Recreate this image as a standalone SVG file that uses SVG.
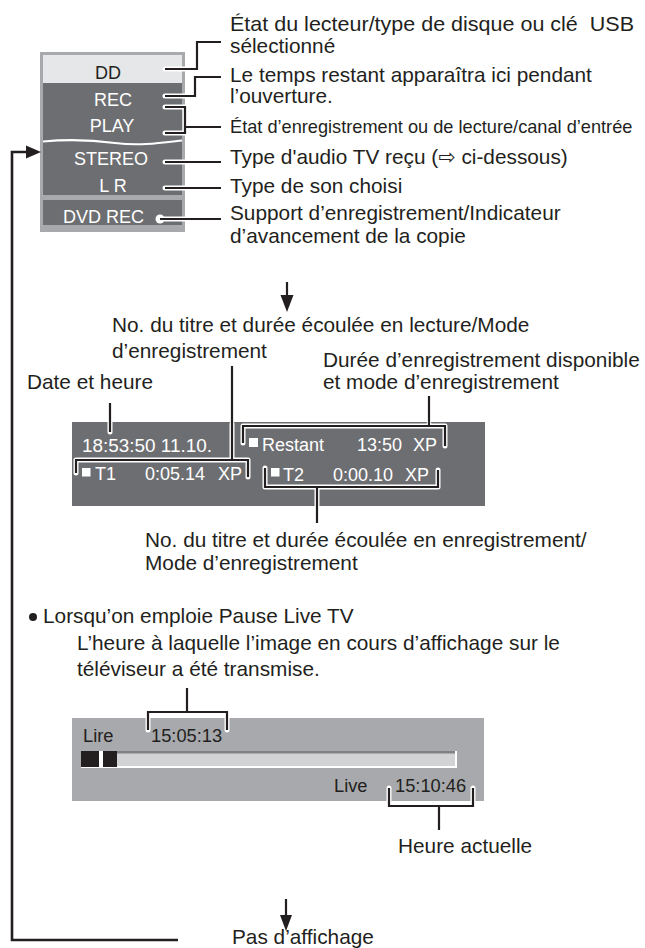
<svg xmlns="http://www.w3.org/2000/svg" width="645" height="948" viewBox="0 0 645 948">
<style>
.lb{font-family:"Liberation Sans",Arial,"DejaVu Sans",sans-serif;font-size:20.8px;fill:#231f20}
.pt{font-family:"Liberation Sans",Arial,sans-serif;font-size:18px;fill:#ffffff}
.pd{font-family:"Liberation Sans",Arial,sans-serif;font-size:18.3px;fill:#231f20}
.halo{fill:none;stroke:#ffffff;stroke-width:5;stroke-linecap:round;stroke-linejoin:round}
.ln{fill:none;stroke:#231f20;stroke-width:2.2;stroke-linejoin:miter}
.loop{fill:none;stroke:#231f20;stroke-width:2.6}
.dark{fill:#6d6e71}
.grey{fill:#a7a9ac}
.ah{fill:#231f20}
</style>

<g id="panel-main">
  <rect x="40" y="52" width="145" height="180" class="grey"/>
  <rect x="43" y="55" width="139" height="140" class="dark"/>
  <rect x="43" y="55" width="139" height="28" fill="#e6e7e8"/>
  <rect x="43" y="200" width="139" height="25" class="dark"/>
  <path d="M43,141.5 C70,139 92,140 115,143 C140,146 160,143 182,140.5" fill="none" stroke="#ffffff" stroke-width="2.2"/>
  <text x="108" y="79" class="pt" text-anchor="middle" style="fill:#231f20">DD</text>
  <text x="113" y="106" class="pt" text-anchor="middle">REC</text>
  <text x="112" y="132" class="pt" text-anchor="middle">PLAY</text>
  <text x="111" y="165" class="pt" text-anchor="middle">STEREO</text>
  <text x="113" y="192" class="pt" text-anchor="middle">L R</text>
  <text x="63" y="223" class="pt">DVD REC</text>
  <circle cx="160" cy="219" r="4.5" fill="#ffffff"/>
</g>

<g id="panel-playback">
  <rect x="72" y="422" width="413" height="84" class="dark"/>
  <text x="82" y="452" class="pt" textLength="130" lengthAdjust="spacingAndGlyphs">18:53:50 11.10.</text>
  <rect x="249" y="438" width="9" height="9" fill="#ffffff"/>
  <text x="262" y="451" class="pt">Restant</text>
  <text x="357" y="451" class="pt">13:50</text>
  <text x="413" y="451" class="pt">XP</text>
  <rect x="82" y="468" width="8.5" height="8.5" fill="#ffffff"/>
  <text x="95" y="480" class="pt">T1</text>
  <text x="145" y="480" class="pt">0:05.14</text>
  <text x="218" y="480" class="pt">XP</text>
  <rect x="271" y="468" width="8.5" height="8.5" fill="#ffffff"/>
  <text x="283" y="481" class="pt">T2</text>
  <text x="333" y="481" class="pt">0:00.10</text>
  <text x="405" y="481" class="pt">XP</text>
</g>

<g id="panel-pause-live">
  <rect x="72" y="718" width="412" height="83" class="grey"/>
  <text x="83" y="742" class="pd">Lire</text>
  <text x="151" y="742" class="pd">15:05:13</text>
  <rect x="81" y="751" width="374" height="16" fill="#d1d3d4"/>
  <rect x="81" y="751" width="374" height="2.5" fill="#808285"/>
  <path d="M81,767 H456 V751" fill="none" stroke="#ffffff" stroke-width="2"/>
  <rect x="81" y="751" width="18" height="16" fill="#231f20"/>
  <rect x="99" y="751" width="4" height="16" fill="#ffffff"/>
  <rect x="103" y="751" width="14" height="16" fill="#231f20"/>
  <text x="334" y="792" class="pd">Live</text>
  <text x="395" y="792" class="pd">15:10:46</text>
</g>

<g id="labels">
  <text x="230" y="31" class="lb" style="white-space:pre" textLength="404" lengthAdjust="spacingAndGlyphs">État du lecteur/type de disque ou clé  USB</text>
  <text x="230" y="53" class="lb">sélectionné</text>
  <text x="230" y="82" class="lb">Le temps restant apparaîtra ici pendant</text>
  <text x="230" y="103" class="lb">l’ouverture.</text>
  <text x="230" y="133" class="lb" style="font-size:18.2px">État d’enregistrement ou de lecture/canal d’entrée</text>
  <text x="230" y="164" class="lb">Type d'audio TV reçu (⇨ ci-dessous)</text>
  <text x="230" y="193" class="lb">Type de son choisi</text>
  <text x="230" y="220" class="lb">Support d’enregistrement/Indicateur</text>
  <text x="230" y="243" class="lb">d’avancement de la copie</text>

  <text x="112" y="332" class="lb">No. du titre et durée écoulée en lecture/Mode</text>
  <text x="112" y="358" class="lb">d’enregistrement</text>
  <text x="323" y="367" class="lb">Durée d’enregistrement disponible</text>
  <text x="323" y="389" class="lb">et mode d’enregistrement</text>
  <text x="27" y="389" class="lb">Date et heure</text>
  <text x="145" y="547" class="lb">No. du titre et durée écoulée en enregistrement/</text>
  <text x="145" y="570" class="lb">Mode d’enregistrement</text>

  <circle cx="33" cy="617" r="4" fill="#231f20"/>
  <text x="43" y="623" class="lb">Lorsqu’on emploie Pause Live TV</text>
  <text x="77" y="650" class="lb">L’heure à laquelle l’image en cours d’affichage sur le</text>
  <text x="77" y="676" class="lb">téléviseur a été transmise.</text>
  <text x="398" y="853" class="lb">Heure actuelle</text>
  <text x="232" y="944" class="lb">Pas d’affichage</text>
</g>

<g id="connectors">
  <g class="halo">
    <path d="M165,69 H197 V42 H221"/>
    <path d="M165,96 H195 V77 H221"/>
    <path d="M165,107 H185 V133 H165 M185,127 H221"/>
    <path d="M165,162 H221"/>
    <path d="M165,188 H221"/>
    <path d="M160,219 H221"/>
    <path d="M110,404 V432"/>
    <path d="M232,424 V460 M76,473 V460 H248 V477"/>
    <path d="M429,424 V426 M243,443 V426 H445 V446"/>
    <path d="M265,468 V487 H438 V470 M317,487 V505"/>
    <path d="M148,730 V712 H227 V730"/>
    <path d="M389,788 V806 H473 V788"/>
  </g>
  <g class="ln">
    <path d="M165,69 H197 V42 H221"/>
    <path d="M165,96 H195 V77 H221"/>
    <path d="M165,107 H185 V133 H165 M185,127 H221"/>
    <path d="M165,162 H221"/>
    <path d="M165,188 H221"/>
    <path d="M160,219 H221"/>
    <path d="M110,403 V432"/>
    <path d="M232,366 V460 M76,473 V460 H248 V477"/>
    <path d="M429,396 V426 M243,443 V426 H445 V446"/>
    <path d="M265,468 V487 H438 V470 M317,487 V523"/>
    <path d="M187,688 V712 M148,730 V712 H227 V730"/>
    <path d="M389,788 V806 H473 V788 M439,806 V830"/>
  </g>
  <path class="loop" d="M178,940 H12 V152 H28"/>
  <polygon class="ah" points="26,145.5 41,152 26,158.5"/>
  <line x1="287" y1="282" x2="287" y2="298" stroke="#231f20" stroke-width="2.2"/>
  <polygon class="ah" points="280.5,295 293.5,295 287,312"/>
  <line x1="286" y1="899" x2="286" y2="918" stroke="#231f20" stroke-width="2.2"/>
  <polygon class="ah" points="280,915 292,915 286,931"/>
</g>
</svg>
